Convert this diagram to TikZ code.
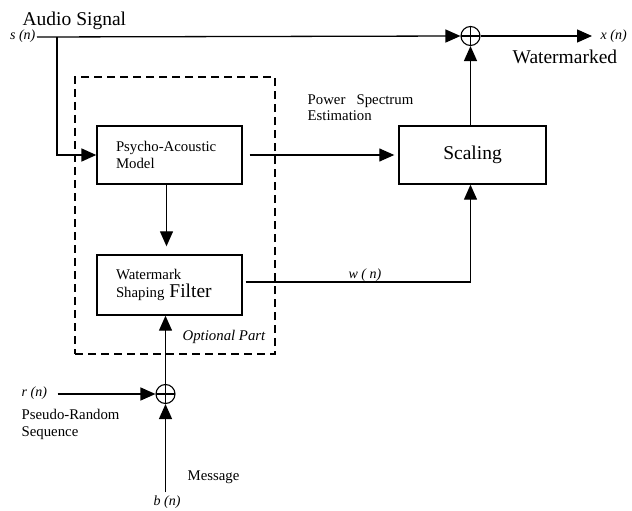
\documentclass[tikz,border=0pt]{standalone}
\usepackage{fontspec}
\setmainfont{Liberation Serif}
\usetikzlibrary{arrows.meta}
\begin{document}
\begin{tikzpicture}[x=1pt,y=-1pt,
  line width=1.3pt,
  arr/.style={-{Triangle[length=15pt 0 0,width=13pt 0 0]}},
  blk/.style={draw, line width=1.4pt, inner xsep=19pt, inner ysep=0pt, align=left},
  sumnode/.style={circle, draw, line width=1.1pt, minimum size=19pt, inner sep=0pt,
    path picture={\draw[line width=1.1pt] (path picture bounding box.north) -- (path picture bounding box.south)
      (path picture bounding box.west) -- (path picture bounding box.east);}},
  big/.style={font=\fontsize{19.5}{22}\selectfont},
  med/.style={font=\fontsize{14.8}{16.7}\selectfont},
  sig/.style={font=\fontsize{14}{16}\selectfont\itshape},
  lbl/.style={inner sep=0pt, anchor=base west}
]
\useasboundingbox (0,0) rectangle (632,511);

% optional part frame
\node[draw, dash pattern=on 8pt off 5pt, line width=1.5pt, minimum width=200pt, minimum height=277pt, inner sep=0pt] (opt) at (175,215.5) {};

% blocks
\node[blk, med, text width=107pt, minimum height=58pt] (psy) at (169.5,155) {Psycho-Acoustic\\Model};
\node[blk, med, text width=107pt, minimum height=60pt] (wsf) at (169.5,285) {Watermark\\[1pt]Shaping {\fontsize{19.5}{22}\selectfont Filter}};
\node[draw, line width=1.4pt, big, minimum width=147pt, minimum height=58pt, inner sep=0pt] (scal) at (472.5,155) {Scaling};

% summation nodes
\node[sumnode] (sum1) at (470.5,36) {};
\node[sumnode] (sum2) at (165.5,394) {};

% labels
\node[lbl, big] (audio) at (22,26) {Audio Signal};
\node[sig, inner sep=0pt, anchor=base east] (sn) at (36,40) {s (n)};
\node[lbl, sig] (xn) at (600,40) {x (n)};
\node[lbl, big] (wm) at (512,64) {Watermarked};
\node[lbl, med, align=left] (pse) at (307,120.7) {Power\ \ \ Spectrum\\Estimation};
\node[lbl, sig] (wn) at (348,278.3) {w ( n)};
\node[lbl, med, font=\fontsize{14.8}{16.7}\selectfont\itshape] (optl) at (182,340.7) {Optional Part};
\node[lbl, sig] (rn) at (21,396.7) {r (n)};
\node[lbl, med, align=left] (prs) at (21,436) {Pseudo-Random\\Sequence};
\node[lbl, med] (msg) at (187,480.7) {Message};
\node[lbl, sig] (bn) at (153,505.7) {b (n)};

% connectors
\coordinate (sIn) at (37,37);
\coordinate (br) at (57,37);
\draw[arr] (sIn) -- (sum1.west);
\draw[arr, line width=1.8pt] (br) |- (psy.west);
\draw[arr, shorten <=7pt, shorten >=4pt] (psy.east) -- (scal.west);
\draw[arr, shorten >=8pt] ([xshift=-3pt]psy.south) -- ([xshift=-3pt]wsf.north);
\draw[arr] ([xshift=3pt,yshift=3pt]wsf.east) -| ([xshift=-2pt]scal.south);
\draw[arr] ([xshift=-2pt]scal.north) -- (sum1.south);
\draw[arr, shorten >=8pt] (sum1.east) -- (sum1.east -| xn.west);
\draw[arr, shorten <=10pt] (rn.east |- sum2) -- (sum2.west);
\draw[arr, shorten <=3pt] (bn.north -| sum2) -- (sum2.south);
\draw[arr] (sum2.north) -- (sum2.north |- wsf.south);
\end{tikzpicture}
\end{document}
